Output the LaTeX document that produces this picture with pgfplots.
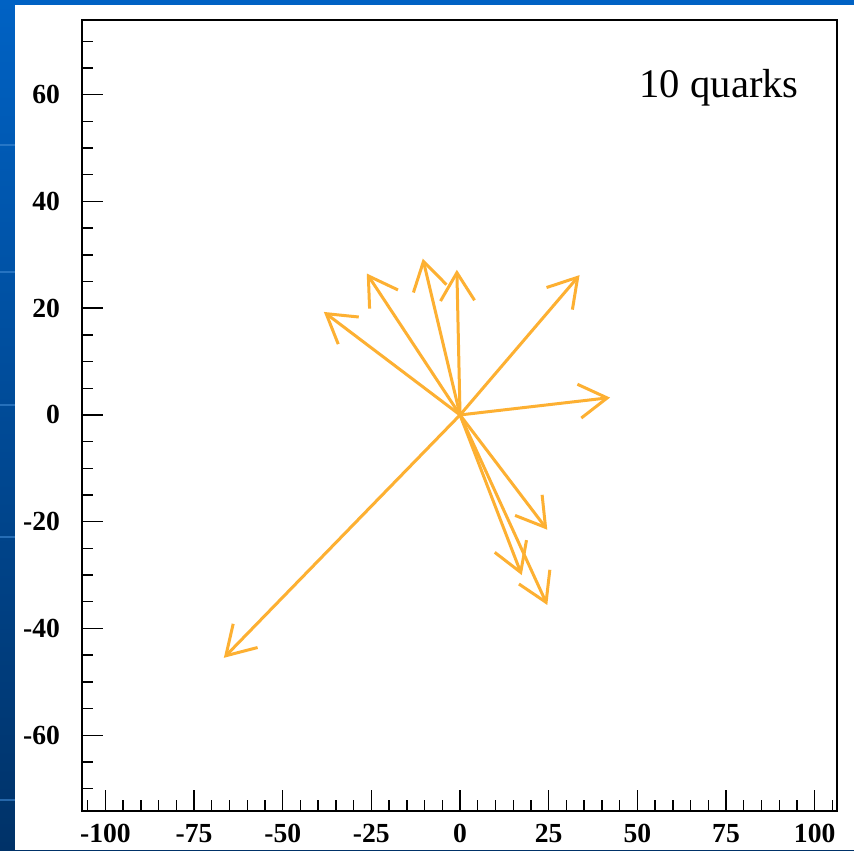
\documentclass[border=0pt]{standalone}
\usepackage{pgfplots}
\pgfplotsset{compat=1.18}
\usepackage{fontspec}
\setmainfont{Liberation Serif}
\usetikzlibrary{arrows.meta}
\definecolor{quark}{RGB}{253,176,50}
\definecolor{slidetop}{RGB}{0,98,196}
\definecolor{slidebot}{RGB}{0,50,104}
\begin{document}
\begin{tikzpicture}[x=0.5pt,y=0.5pt]
\path[use as bounding box] (0,0) rectangle (854,850);
\shade[top color=slidetop,bottom color=slidebot] (0,0) rectangle (854,850);
\fill[slidetop] (0,845) rectangle (854,850);
\foreach \yy in {145,272,405,537,800} {\draw[slidetop!75!white, line width=1pt, opacity=0.6] (0,850-\yy) -- (15,850-\yy);}
\fill[white] (15,0) rectangle (854,845);
\begin{axis}[
  at={(41pt,19.5pt)}, anchor=south west,
  width=377.5pt, height=395.5pt, scale only axis,
  xmin=-106.6, xmax=106.3, ymin=-74.2, ymax=74,
  xtick={-100,-75,...,100},
  xticklabels={-100,-75,-50,-25,0,25,50,75,100},
  ytick={-60,-40,...,60},
  yticklabels={-60,-40,-20,0,20,40,60},
  minor xtick={-105,-100,...,105},
  minor ytick={-70,-65,...,70},
  tick align=inside, xtick pos=left, ytick pos=left,
  major tick length=10.5pt, minor tick length=5.5pt,
  tick style={black, line width=0.7pt},
  axis line style={black, line width=0.8pt},
  ticklabel style={font=\fontsize{13.8}{15}\selectfont\bfseries},
  yticklabel style={xshift=-7.5pt},
  xticklabel style={yshift=-3pt},
  clip=false,
  quarkarrow/.style={quark, line width=1.5pt, -{Straight Barb[length=14pt,width=17pt,line width=1.5pt]}},
]
\addplot[quarkarrow] coordinates {(0,0) (-38.4,19.3)};
\addplot[quarkarrow] coordinates {(0,0) (-26.3,26.5)};
\addplot[quarkarrow] coordinates {(0,0) (-10.5,29.3)};
\addplot[quarkarrow] coordinates {(0,0) (-0.9,27.2)};
\addplot[quarkarrow] coordinates {(0,0) (33.7,26.2)};
\addplot[quarkarrow] coordinates {(0,0) (42.3,3.25)};
\addplot[quarkarrow] coordinates {(0,0) (24.6,-21.5)};
\addplot[quarkarrow] coordinates {(0,0) (17.4,-30.0)};
\addplot[quarkarrow] coordinates {(0,0) (24.6,-35.6)};
\addplot[quarkarrow] coordinates {(0,0) (-66.6,-45.5)};
\node[anchor=base east, inner sep=0pt, font=\fontsize{20.3}{24}\selectfont] at (axis cs:95.6,59.5) {10 quarks};
\end{axis}
\end{tikzpicture}
\end{document}
